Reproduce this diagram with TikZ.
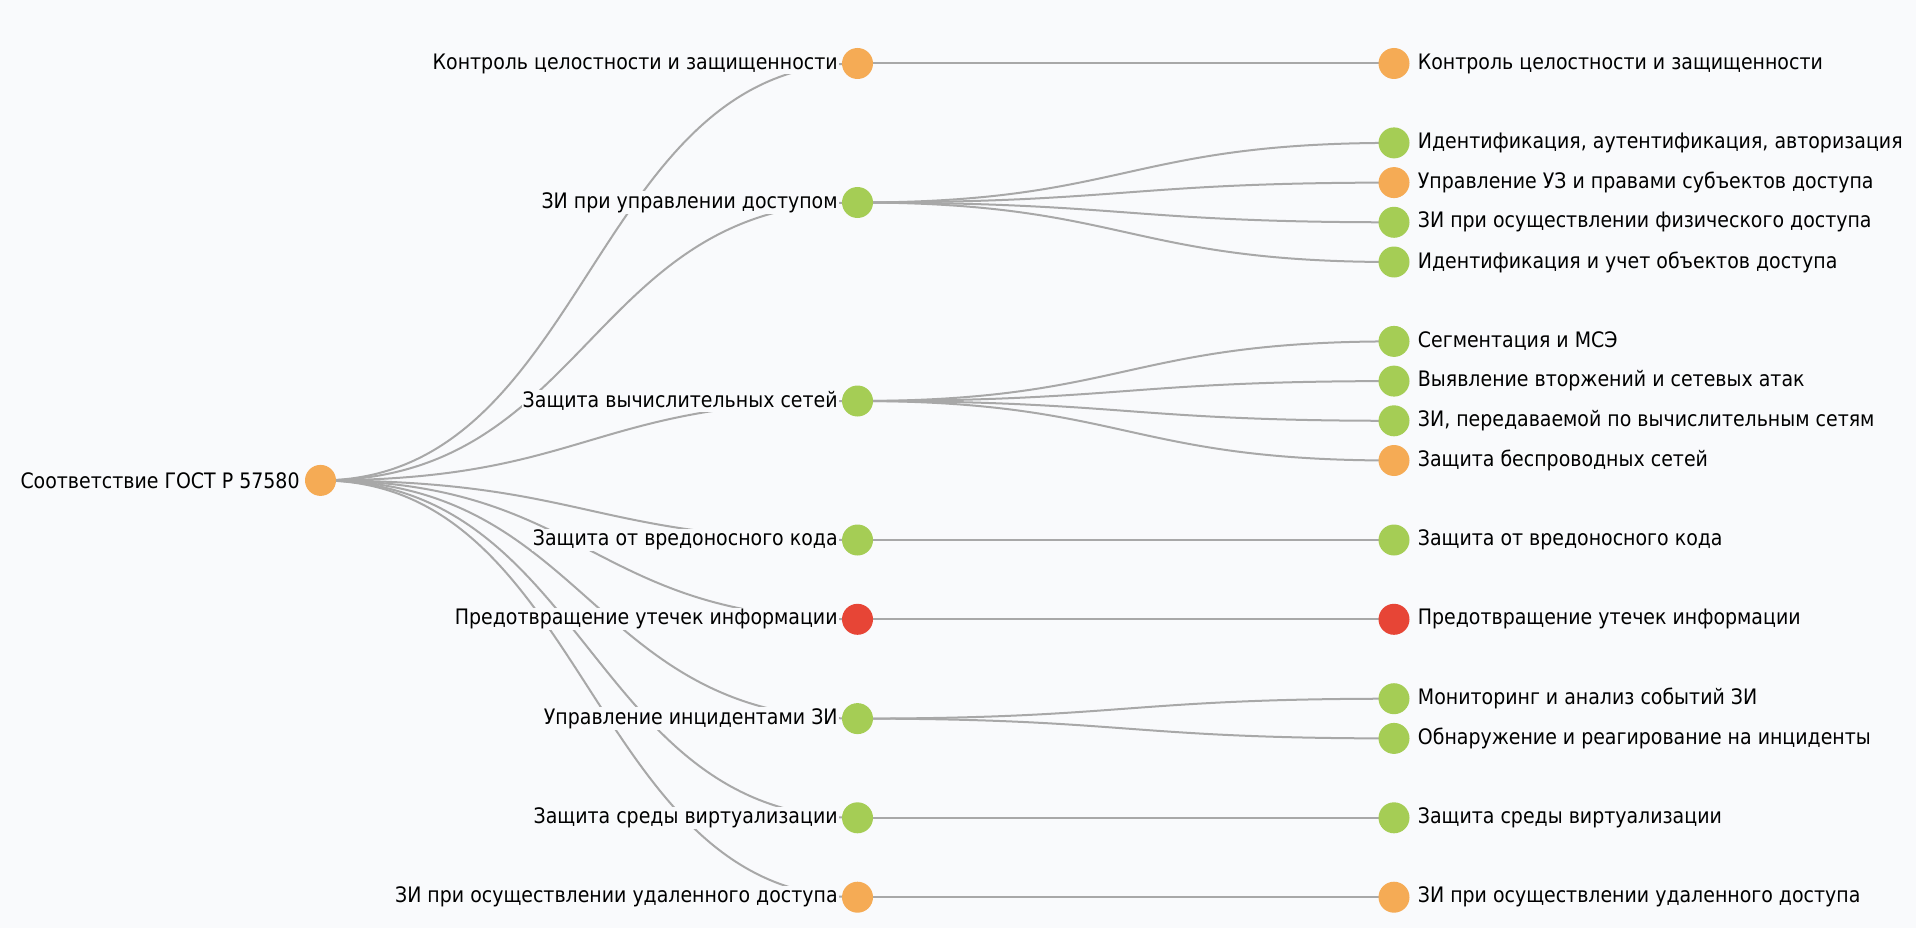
\documentclass[tikz,border=0pt]{standalone}
\usepackage{fontspec}
\setmainfont{DejaVu Sans}[FakeStretch=0.89]
\usepackage{tikz}
\usetikzlibrary{positioning}
\definecolor{bgc}{RGB}{249,250,252}
\definecolor{cok}{RGB}{165,205,85}
\definecolor{cwarn}{RGB}{245,171,85}
\definecolor{cbad}{RGB}{231,69,54}
\definecolor{clink}{RGB}{168,168,168}
\pgfdeclarelayer{bg}
\pgfdeclarelayer{edges}
\pgfsetlayers{bg,edges,main}
\tikzset{sdot/.style={circle, inner sep=0pt, minimum size=31pt},
    sok/.style={sdot, fill=cok},
    swarn/.style={sdot, fill=cwarn},
    sbad/.style={sdot, fill=cbad},
    slbl/.style={inner sep=1pt, fill=bgc, text=black, font=\fontsize{21.3}{25}\selectfont},
    slink/.style={draw=clink, line width=2pt}}

\begin{document}
\begin{tikzpicture}[x=1pt, y=-1pt]
                    \begin{pgfonlayer}{bg}
                    \fill[bgc] (0, 0) rectangle (1916, 928);
                    \end{pgfonlayer}

                    \node[swarn] (r) at (320.5, 480.4) {};
                    \node[slbl, left=4pt of r] (rt) {Соответствие ГОСТ Р 57580};

                    \node[swarn] (m1) at (857.5, 63.5) {};
                    \node[sok] (m2) at (857.5, 202.5) {};
                    \node[sok] (m3) at (857.5, 401) {};
                    \node[sok] (m4) at (857.5, 540) {};
                    \node[sbad] (m5) at (857.5, 619.3) {};
                    \node[sok] (m6) at (857.5, 718.6) {};
                    \node[sok] (m7) at (857.5, 817.8) {};
                    \node[swarn] (m8) at (857.5, 897.2) {};
                    \node[slbl, left=3pt of m1] (m1t) {Контроль целостности и защищенности};
                    \node[slbl, left=3pt of m2] (m2t) {ЗИ при управлении доступом};
                    \node[slbl, left=3pt of m3] (m3t) {Защита вычислительных сетей};
                    \node[slbl, left=3pt of m4] (m4t) {Защита от вредоносного кода};
                    \node[slbl, left=3pt of m5] (m5t) {Предотвращение утечек информации};
                    \node[slbl, left=3pt of m6] (m6t) {Управление инцидентами ЗИ};
                    \node[slbl, left=3pt of m7] (m7t) {Защита среды виртуализации};
                    \node[slbl, left=3pt of m8] (m8t) {ЗИ при осуществлении удаленного доступа};

                    \node[swarn] (l1) at (1394, 63.5) {};
                    \node[sok] (l2) at (1394, 142.9) {};
                    \node[swarn] (l3) at (1394, 182.6) {};
                    \node[sok] (l4) at (1394, 222.3) {};
                    \node[sok] (l5) at (1394, 262) {};
                    \node[sok] (l6) at (1394, 341.4) {};
                    \node[sok] (l7) at (1394, 381.1) {};
                    \node[sok] (l8) at (1394, 420.8) {};
                    \node[swarn] (l9) at (1394, 460.5) {};
                    \node[sok] (l10) at (1394, 540) {};
                    \node[sbad] (l11) at (1394, 619.3) {};
                    \node[sok] (l12) at (1394, 698.7) {};
                    \node[sok] (l13) at (1394, 738.4) {};
                    \node[sok] (l14) at (1394, 817.8) {};
                    \node[swarn] (l15) at (1394, 897.2) {};
                    \node[slbl, right=7pt of l1] (l1t) {Контроль целостности и защищенности};
                    \node[slbl, right=7pt of l2] (l2t) {Идентификация, аутентификация, авторизация};
                    \node[slbl, right=7pt of l3] (l3t) {Управление УЗ и правами субъектов доступа};
                    \node[slbl, right=7pt of l4] (l4t) {ЗИ при осуществлении физического доступа};
                    \node[slbl, right=7pt of l5] (l5t) {Идентификация и учет объектов доступа};
                    \node[slbl, right=7pt of l6] (l6t) {Сегментация и МСЭ};
                    \node[slbl, right=7pt of l7] (l7t) {Выявление вторжений и сетевых атак};
                    \node[slbl, right=7pt of l8] (l8t) {ЗИ, передаваемой по вычислительным сетям};
                    \node[slbl, right=7pt of l9] (l9t) {Защита беспроводных сетей};
                    \node[slbl, right=7pt of l10] (l10t) {Защита от вредоносного кода};
                    \node[slbl, right=7pt of l11] (l11t) {Предотвращение утечек информации};
                    \node[slbl, right=7pt of l12] (l12t) {Мониторинг и анализ событий ЗИ};
                    \node[slbl, right=7pt of l13] (l13t) {Обнаружение и реагирование на инциденты};
                    \node[slbl, right=7pt of l14] (l14t) {Защита среды виртуализации};
                    \node[slbl, right=7pt of l15] (l15t) {ЗИ при осуществлении удаленного доступа};

                    \begin{pgfonlayer}{edges}
                    \foreach \m in {1,...,8}
                        \draw[slink] (r.center) .. controls +(268.5, 0) and +(-268.5, 0) .. (m\m.center);
                    \foreach \m/\l in {1/1, 2/2, 2/3, 2/4, 2/5, 3/6, 3/7, 3/8, 3/9, 4/10, 5/11, 6/12, 6/13, 7/14, 8/15}
                        \draw[slink] (m\m.center) .. controls +(268, 0) and +(-268, 0) .. (l\l.center);
                    \end{pgfonlayer}
                \end{tikzpicture}
\end{document}
